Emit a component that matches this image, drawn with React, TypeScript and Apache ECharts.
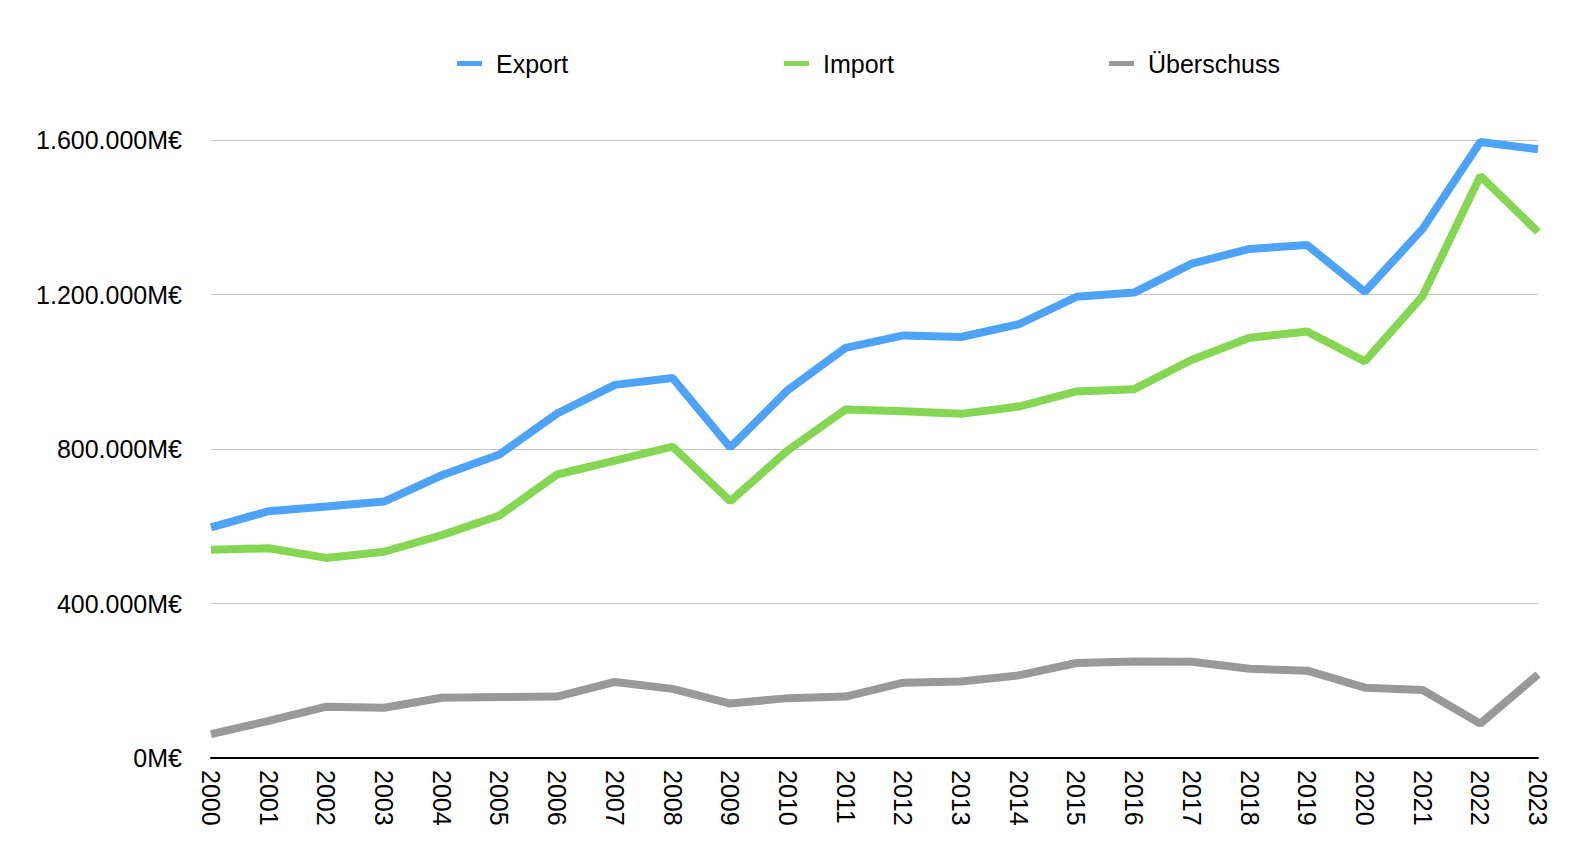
import React, { useEffect, useRef } from "react";
import * as echarts from "echarts";

const years = ["2000","2001","2002","2003","2004","2005","2006","2007","2008","2009","2010","2011","2012","2013","2014","2015","2016","2017","2018","2019","2020","2021","2022","2023"];
const exportValues = [597000,639000,651000,664000,732000,786000,892000,966000,984000,804000,953000,1062000,1094000,1090000,1123000,1194000,1205000,1280000,1318000,1328000,1207000,1370000,1595000,1576000];
const importValues = [539000,543000,518000,534000,577000,628000,734000,770000,806000,665000,797000,902000,898000,891000,910000,949000,955000,1031000,1088000,1104000,1027000,1196000,1507000,1362000];
const surplusValues = [62000,96000,133000,130000,156000,158000,159000,197000,179000,141000,155000,159000,195000,198000,214000,246000,250000,249000,231000,226000,182000,176000,89000,216000];
const seriesNames = ["Export", "Import", "Überschuss"];
const colors = ["#4DA3F8", "#84D653", "#999999"];
const yMax = 1600000;
const yInterval = 400000;

function fmt(v: number): string {
  const s = Math.round(v).toString();
  return s.replace(/\B(?=(\d{3})+(?!\d))/g, ".") + "M€";
}

export default function App() {
  const ref = useRef<HTMLDivElement>(null);
  useEffect(() => {
    if (!ref.current) return;
    const chart = echarts.init(ref.current, null, { renderer: "svg" });
    const font = "'Liberation Sans', Arial, Helvetica, sans-serif";
    const legendLefts = [452, 779, 1104];
    chart.setOption({
      animation: false,
      backgroundColor: "#ffffff",
      textStyle: { fontFamily: font },
      legend: seriesNames.map((n, i) => ({
        data: [n],
        left: legendLefts[i],
        top: 46,
        icon: "rect",
        itemWidth: 25,
        itemHeight: 5,
        textStyle: { fontSize: 25, color: "#000", fontFamily: font, padding: [0, 0, 0, 9] },
        selectedMode: false,
      })),
      grid: { left: 211, right: 58, top: 140, bottom: 100, containLabel: false },
      xAxis: {
        type: "category",
        data: years,
        boundaryGap: false,
        axisLine: { show: true, lineStyle: { color: "#000", width: 2 } },
        axisTick: { show: false },
        axisLabel: { rotate: -90, fontSize: 25, color: "#000", margin: 12, fontFamily: font, interval: 0 },
        splitLine: { show: false },
      },
      yAxis: {
        type: "value",
        min: 0,
        max: yMax,
        interval: yInterval,
        axisLine: { show: false },
        axisTick: { show: false },
        axisLabel: { fontSize: 25, color: "#000", margin: 29, fontFamily: font, formatter: (v: number) => fmt(v) },
        splitLine: { show: true, lineStyle: { color: "#c8c8c8", width: 1 } },
      },
      series: [exportValues, importValues, surplusValues].map((d, i) => ({
        name: seriesNames[i],
        type: "line",
        data: d,
        symbol: "none",
        smooth: false,
        color: colors[i],
        lineStyle: { width: 8, color: colors[i] },
        z: 3 - i,
      })),
    });
    return () => chart.dispose();
  }, []);
  return <div ref={ref} style={{ position: "fixed", left: 0, top: 0, width: 1596, height: 858 }} />;
}
